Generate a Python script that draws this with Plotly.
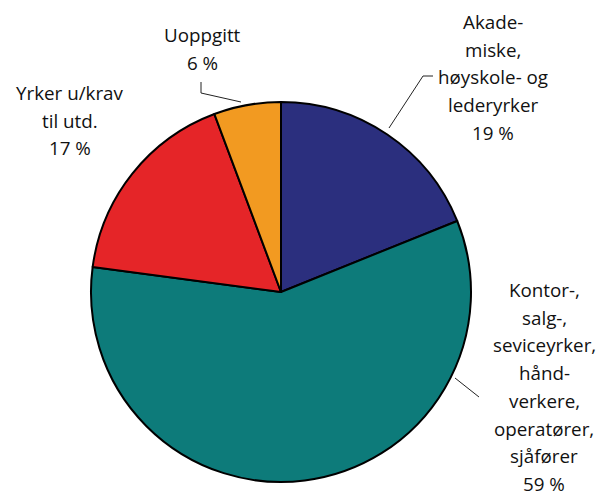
import plotly.graph_objects as go

W, H = 602, 498

categories = ["Akademiske, høyskole- og lederyrker",
              "Kontor-, salg-, serviceyrker, håndverkere, operatører, sjåfører",
              "Yrker u/krav til utd.",
              "Uoppgitt"]
values = [18.9, 58.2, 17.2, 5.7]
pct_labels = ["19 %", "59 %", "17 %", "6 %"]
colors = ["#2b2f7e", "#0d7b7a", "#e52528", "#f29a21"]

label_lines = [
    ["Akade-", "miske,", "høyskole- og", "lederyrker", pct_labels[0]],
    ["Kontor-,", "salg-,", "seviceyrker,", "hånd-", "verkere,", "operatører,", "sjåfører", pct_labels[1]],
    ["Yrker u/krav", "til utd.", pct_labels[2]],
    ["Uoppgitt", pct_labels[3]],
]
# label placement (pixel centre x, first-line centre y)
label_pos = [(493, 22), (544, 290), (70, 93), (202, 35)]
line_step = 27.7

fig = go.Figure(go.Pie(
    labels=categories, values=values, sort=False, direction="clockwise",
    rotation=0, textinfo="none", hoverinfo="label+percent",
    marker=dict(colors=colors, line=dict(color="#000000", width=2)),
    domain=dict(x=[91 / W, 471 / W], y=[1 - 482 / H, 1 - 102 / H]),
    showlegend=False,
))

def px(x):
    return x / W

def py(y):
    return 1 - y / H

annotations = []
for lines, (cx, cy) in zip(label_lines, label_pos):
    for i, t in enumerate(lines):
        annotations.append(dict(
            x=px(cx), y=py(cy + i * line_step), xref="paper", yref="paper",
            text=t, showarrow=False, xanchor="center", yanchor="middle",
            font=dict(family="Open Sans", size=18.8, color="#111111"),
        ))

leaders = [
    [(389, 128), (423, 76), (433, 76)],
    [(455, 378), (479, 397)],
    [(241, 102), (201, 93), (201, 82)],
]
shapes = []
for pts in leaders:
    path = "M " + " L ".join(f"{px(x)},{py(y)}" for x, y in pts)
    shapes.append(dict(type="path", path=path, xref="paper", yref="paper",
                       line=dict(color="#222222", width=1)))

fig.update_layout(
    width=W, height=H, margin=dict(l=0, r=0, t=0, b=0),
    paper_bgcolor="white", plot_bgcolor="white",
    annotations=annotations, shapes=shapes,
)

fig.write_html("out.html", config={"displayModeBar": False},
               post_script="document.body.style.margin='0';document.body.style.padding='0';")
